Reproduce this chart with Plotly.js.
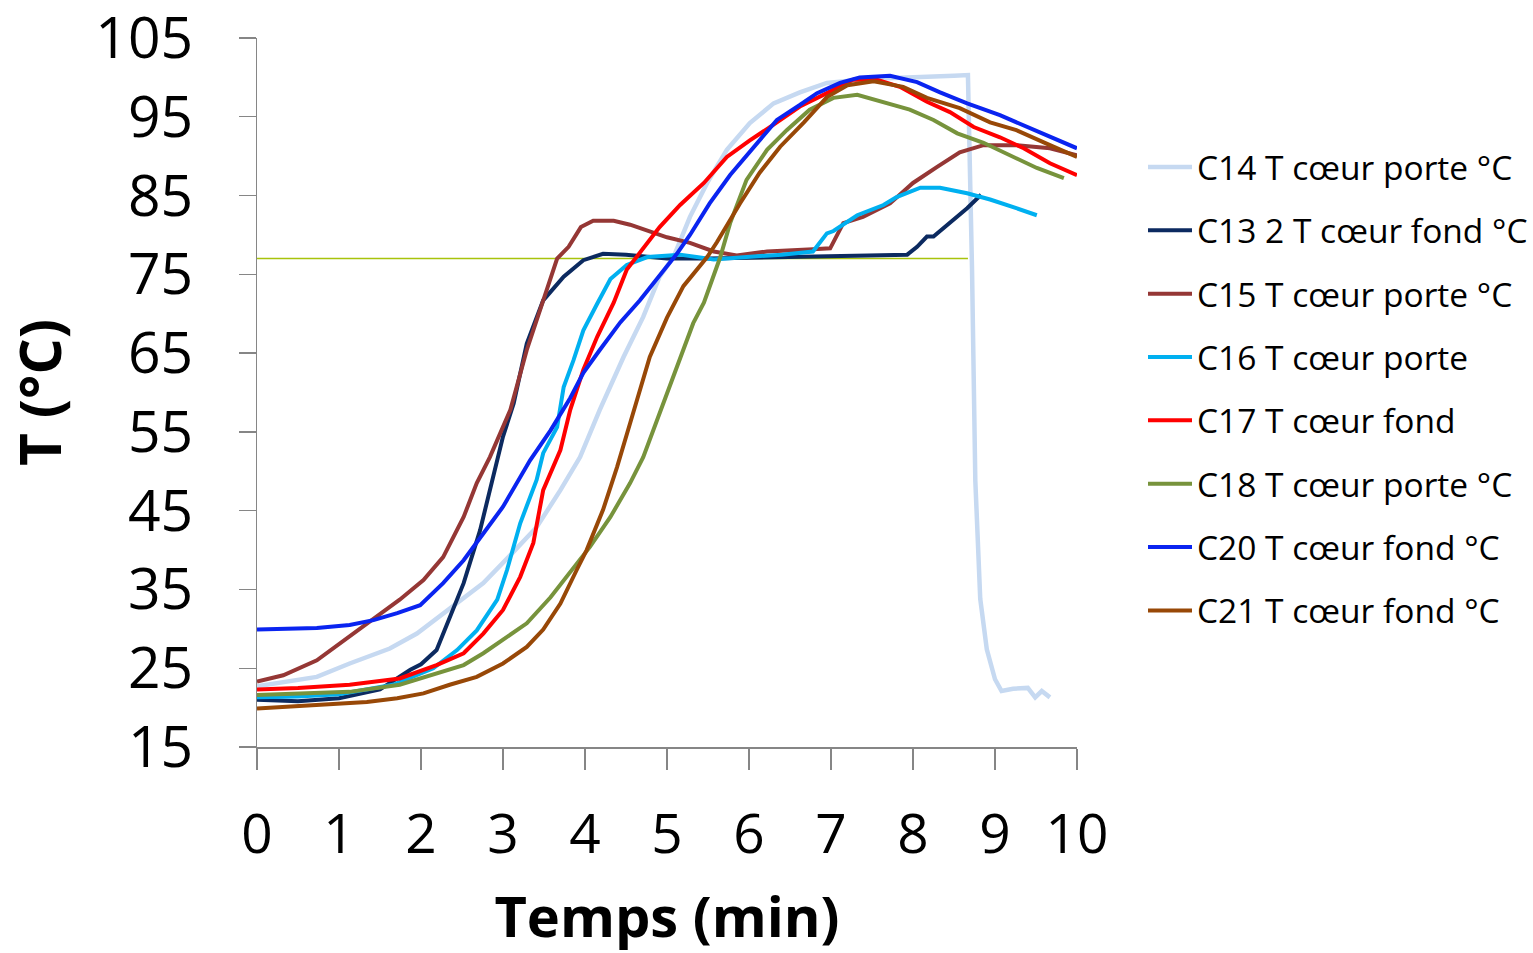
<!DOCTYPE html>
<html>
<head>
<meta charset="utf-8">
<script src="https://cdn.plot.ly/plotly-3.0.1.min.js"></script>
<style>html,body{margin:0;padding:0;background:#fff;}#chart{width:1533px;height:953px;}</style>
</head>
<body>
<div id="chart"></div>
<script>
// Time (min) and temperature (°C)
const c14_t = [0, 0.32, 0.73, 1.13, 1.62, 1.95, 2.35, 2.76, 3.13, 3.41, 3.7, 3.94, 4.18, 4.47, 4.71, 4.91, 5.08, 5.28, 5.49, 5.73, 6.01, 6.3, 6.62, 6.95, 7.44, 7.8, 8.25, 8.5, 8.67, 8.72, 8.76, 8.82, 8.9, 9.0, 9.08, 9.22, 9.4, 9.49, 9.57, 9.67];
const c14_v = [22.7, 23.2, 23.9, 25.6, 27.5, 29.4, 32.6, 35.8, 39.8, 42.9, 47.6, 51.8, 57.8, 64.5, 69.6, 74.7, 77.2, 82.3, 86.6, 90.8, 94.2, 96.7, 98.1, 99.3, 99.8, 99.9, 100, 100.2, 100.3, 75.5, 48.8, 33.8, 27.4, 23.6, 22.1, 22.4, 22.5, 21.3, 22.1, 21.3];

const c13_t = [0, 0.5, 1.0, 1.5, 1.87, 2.0, 2.19, 2.35, 2.52, 2.72, 2.84, 3.0, 3.13, 3.29, 3.49, 3.74, 3.98, 4.22, 4.5, 5.0, 5.5, 6.0, 6.5, 7.0, 7.6, 7.93, 8.05, 8.17, 8.25, 8.45, 8.66, 8.83];
const c13_v = [21.0, 20.8, 21.2, 22.3, 24.8, 25.5, 27.3, 31.5, 35.8, 42.5, 47.5, 54.4, 58.6, 66.2, 71.7, 74.7, 76.8, 77.6, 77.5, 77.0, 77.0, 77.1, 77.2, 77.3, 77.5, 77.5, 78.5, 79.8, 79.8, 81.6, 83.4, 85.1];

const c15_t = [0, 0.32, 0.73, 1.13, 1.46, 1.74, 2.03, 2.27, 2.52, 2.68, 2.84, 3.09, 3.29, 3.49, 3.66, 3.8, 3.95, 4.1, 4.35, 4.55, 4.76, 5.0, 5.28, 5.57, 5.85, 6.22, 6.78, 6.99, 7.15, 7.39, 7.72, 8.0, 8.29, 8.57, 8.86, 9.27, 9.67, 10.0];
const c15_v = [23.3, 24.1, 26, 29, 31.5, 33.7, 36.2, 39.1, 44.2, 48.5, 51.8, 57.8, 65.4, 71.7, 77, 78.5, 81.0, 81.8, 81.8, 81.3, 80.5, 79.7, 79, 77.9, 77.4, 77.9, 78.2, 78.3, 81.5, 82.3, 84, 86.6, 88.6, 90.5, 91.4, 91.4, 91, 90.1];

const c16_t = [0, 0.5, 1.0, 1.66, 2.15, 2.44, 2.68, 2.93, 3.05, 3.21, 3.41, 3.49, 3.66, 3.74, 3.86, 3.98, 4.15, 4.31, 4.51, 4.76, 5.16, 5.57, 5.97, 6.4, 6.78, 6.95, 7.03, 7.32, 7.64, 7.8, 8.09, 8.33, 8.66, 8.94, 9.26, 9.51];
const c16_v = [21.3, 21.4, 21.7, 22.9, 25, 27.3, 29.8, 33.7, 37.5, 43.4, 48.9, 52.3, 55.6, 60.7, 64.1, 67.9, 71.3, 74.4, 76.2, 77.2, 77.5, 76.9, 77.2, 77.5, 77.9, 80.2, 80.5, 82.5, 83.8, 84.8, 86, 86, 85.3, 84.5, 83.4, 82.5];

const c17_t = [0, 0.5, 1.13, 1.74, 2.19, 2.52, 2.76, 3.0, 3.21, 3.37, 3.49, 3.7, 3.82, 3.98, 4.15, 4.35, 4.51, 4.67, 4.91, 5.16, 5.45, 5.73, 6.01, 6.3, 6.62, 6.95, 7.27, 7.56, 7.84, 8.17, 8.45, 8.74, 9.06, 9.35, 9.67, 10.0];
const c17_v = [22.3, 22.5, 22.9, 23.7, 25.4, 26.9, 29.4, 32.4, 36.6, 40.9, 47.6, 52.7, 57.8, 62.9, 67.1, 71.4, 75.6, 77.7, 81, 83.8, 86.6, 89.9, 92, 94, 96.3, 98, 99.7, 99.7, 98.8, 96.9, 95.6, 93.7, 92.4, 91, 89.1, 87.6];

const c18_t = [0, 0.5, 1.13, 1.74, 2.19, 2.52, 2.76, 3.0, 3.29, 3.58, 3.82, 4.06, 4.31, 4.55, 4.71, 4.91, 5.16, 5.32, 5.45, 5.65, 5.77, 5.97, 6.22, 6.46, 6.74, 7.03, 7.32, 7.64, 7.96, 8.25, 8.54, 8.86, 9.18, 9.51, 9.84];
const c18_v = [21.6, 21.8, 22, 22.9, 24.4, 25.4, 26.9, 28.6, 30.7, 34, 37.1, 40.4, 44.2, 48.5, 51.8, 57.3, 64.1, 68.8, 71.4, 77.2, 81.5, 87, 90.8, 93.3, 95.9, 97.4, 97.8, 96.9, 95.9, 94.6, 92.9, 91.7, 90.1, 88.5, 87.2];

const c20_t = [0, 0.73, 1.13, 1.42, 1.71, 1.99, 2.27, 2.52, 2.76, 3.0, 3.33, 3.58, 3.82, 3.98, 4.18, 4.43, 4.67, 4.91, 5.12, 5.28, 5.52, 5.77, 6.05, 6.34, 6.62, 6.83, 7.11, 7.35, 7.72, 8.05, 8.33, 8.66, 9.06, 9.39, 9.67, 10.0];
const c20_v = [29.9, 30.1, 30.5, 31.1, 32, 33, 35.8, 38.7, 42.1, 45.5, 51.4, 55.2, 59.3, 62.5, 65.4, 68.9, 71.7, 74.9, 77.6, 80, 84, 87.6, 91, 94.6, 96.5, 98, 99.3, 100, 100.2, 99.4, 98.1, 96.7, 95.2, 93.7, 92.4, 91];

const c21_t = [0, 0.73, 1.34, 1.71, 2.03, 2.35, 2.68, 3.0, 3.29, 3.49, 3.7, 3.9, 4.02, 4.22, 4.39, 4.55, 4.79, 5.0, 5.2, 5.49, 5.61, 5.89, 6.13, 6.38, 6.67, 6.95, 7.2, 7.52, 7.88, 8.17, 8.57, 8.94, 9.26, 9.67, 10.0];
const c21_v = [19.9, 20.3, 20.7, 21.2, 21.8, 22.9, 23.9, 25.6, 27.7, 29.9, 33.2, 37.5, 40, 45.1, 50.5, 56.1, 64.5, 69.5, 73.5, 77.2, 79.1, 84, 87.9, 91.2, 94.3, 97.5, 99, 99.5, 98.8, 97.4, 96.1, 94.3, 93.3, 91.4, 89.9];

const ref_t = [0, 8.67];
const ref_v = [77, 77];

const names = ["C14 T cœur porte °C", "C13 2 T cœur fond °C", "C15 T cœur porte °C", "C16 T cœur porte",
               "C17 T cœur fond", "C18 T cœur porte °C", "C20 T cœur fond °C", "C21 T cœur fond °C"];
const colors = ["#C6D9F1", "#0C2A60", "#953735", "#00B0F0", "#FF0000", "#77933C", "#0A24F0", "#984807"];
const xs = [c14_t, c13_t, c15_t, c16_t, c17_t, c18_t, c20_t, c21_t];
const ys = [c14_v, c13_v, c15_v, c16_v, c17_v, c18_v, c20_v, c21_v];
const widths = [4.5, 4, 4, 4, 4, 4, 4, 4];

const FONT = "Open Sans, Noto Sans, sans-serif";

const traces = [];
traces.push({x: ref_t, y: ref_v, mode: "lines", line: {color: "#A8C30C", width: 1.5}, showlegend: false, hoverinfo: "skip"});
names.forEach((n, i) => {
  traces.push({x: xs[i], y: ys[i], name: n, mode: "lines", legendgroup: "g" + i,
               line: {color: colors[i], width: widths[i]}});
});

const layout = {
  width: 1533, height: 953,
  margin: {l: 257, r: 456, t: 38, b: 206},
  paper_bgcolor: "#fff", plot_bgcolor: "#fff",
  font: {family: FONT, color: "#000"},
  showlegend: true,
  legend: {xref: "container", x: 1143 / 1533, xanchor: "left", y: 0.858, yanchor: "top", tracegroupgap: 16.8,
           font: {family: FONT, size: 33.5, color: "#000"}, bgcolor: "rgba(0,0,0,0)", itemwidth: 44},
  xaxis: {range: [0, 10], tickvals: [0,1,2,3,4,5,6,7,8,9,10], showgrid: false, zeroline: false,
          showline: true, linecolor: "#868686", linewidth: 1.5, ticks: "outside", ticklen: 21, tickcolor: "#868686", tickwidth: 1.3,
          tickfont: {family: FONT, size: 55}, ticklabelstandoff: 17, ticklabeloverflow: "allow",
          title: {text: "<b>Temps (min)</b>", font: {family: FONT, size: 56}, standoff: 30}},
  yaxis: {range: [15, 105.001], tickvals: [15,25,35,45,55,65,75,85,95,105], showgrid: false, zeroline: false,
          showline: true, linecolor: "#868686", linewidth: 1.5, ticks: "outside", ticklen: 17, tickcolor: "#868686", tickwidth: 1.3,
          tickfont: {family: FONT, size: 57}, ticklabelstandoff: 34, ticklabeloverflow: "allow",
          title: {text: "<b>T (°C)</b>", font: {family: FONT, size: 57}, standoff: 43}}
};

Plotly.newPlot("chart", traces, layout, {displayModeBar: false, staticPlot: true});
</script>
</body>
</html>
